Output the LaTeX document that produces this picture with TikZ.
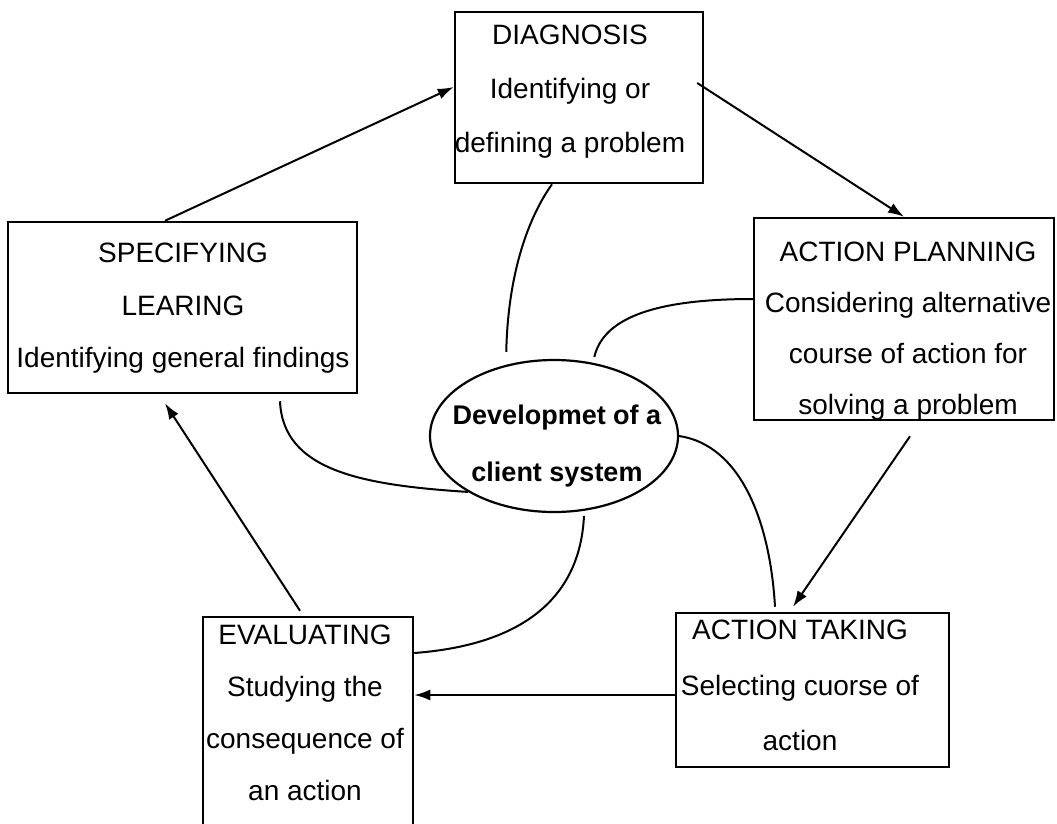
\documentclass[tikz,border=0pt]{standalone}
\usepackage{fontspec}
\setmainfont{Liberation Sans}
\usetikzlibrary{arrows.meta,shapes.geometric,calc}

\begin{document}
\begin{tikzpicture}[x=1pt,y=-1pt,
  box/.style={draw, line width=2.5pt, inner sep=0pt, rectangle},
  txt/.style={align=center, inner sep=0pt, font=\fontsize{28}{54}\selectfont},
  core/.style={draw, ellipse, line width=2.2pt, inner sep=0pt,
               minimum width=248pt, minimum height=152pt},
  link/.style={line width=2pt},
  flow/.style={line width=2pt, -{Latex[length=16pt,width=11pt]}}]
\useasboundingbox (0,0) rectangle (1057,823);
\clip (0,0) rectangle (1057,823);

% stage boxes
\node[box, minimum width=248pt, minimum height=171pt] (diag) at (579,97.5) {};
\node[box, minimum width=300pt, minimum height=202pt] (plan) at (904,319) {};
\node[box, minimum width=349pt, minimum height=171pt] (spec) at (182.5,307.5) {};
\node[box, minimum width=210pt, minimum height=253pt] (eval) at (308,743.5) {};
\node[box, minimum width=273pt, minimum height=154pt] (take) at (812.5,690) {};
\node[core] (dev) at (554,436) {};

% stage texts
\node[txt] (diag-t) at (570,92) {DIAGNOSIS\\Identifying or\\defining a problem};
\node[txt, font=\fontsize{28}{52.5}\selectfont] (spec-t) at (183,308.5)
  {SPECIFYING\\LEARING\\Identifying general findings};
\node[txt, font=\fontsize{28}{51}\selectfont] (plan-t) at (908,331.5)
  {ACTION PLANNING\\Considering alternative\\course of action for\\solving a problem};
\node[txt, font=\fontsize{28}{52}\selectfont] (eval-t) at (305,713)
  {EVALUATING\\Studying the\\consequence of\\an action};
\node[txt, font=\fontsize{28}{55.5}\selectfont] (take-t) at (800,685.5)
  {ACTION TAKING\\Selecting cuorse of\\action};
\node[txt, font=\fontsize{27}{57}\selectfont\bfseries] (dev-t) at (557,446.5)
  {Developmet of a\\client system};

% cycle arrows
\draw[flow] ([xshift=-17.5pt]spec.north) -- ([yshift=10.5pt]diag.west);
\draw[flow] ([xshift=-7pt,yshift=14.5pt]diag.east) -- (plan.north);
\draw[flow] ([xshift=6pt,yshift=-15pt]plan.south) -- ([xshift=-19.5pt,yshift=5pt]take.north);
\draw[flow] ([yshift=-5pt]take.west) -- ([yshift=-5pt]take.west -| eval.east);
\draw[flow] ([xshift=-8pt,yshift=5pt]eval.north) -- ([xshift=-17.5pt,yshift=-9pt]spec.south);

% links from the client system to each stage
\draw[link, shorten >=13pt] ([xshift=-27pt]diag.south)
  .. controls (530,215) and (508,270) .. (dev.124);
\draw[link, shorten <=6pt] (dev.62)
  .. controls (603,320) and (650,299) .. ([yshift=20pt]plan.west);
\draw[link] (dev.east)
  .. controls (740,445) and (770,520) .. ([xshift=-37.5pt,yshift=5pt]take.north);
\draw[link, shorten <=5pt] (dev.292)
  .. controls (580,600) and (520,645) .. ([yshift=90.5pt]eval.east);
\draw[link] ([xshift=97.5pt,yshift=-7pt]spec.south)
  .. controls (283,470) and (360,485) .. (dev.213);
\end{tikzpicture}
\end{document}
